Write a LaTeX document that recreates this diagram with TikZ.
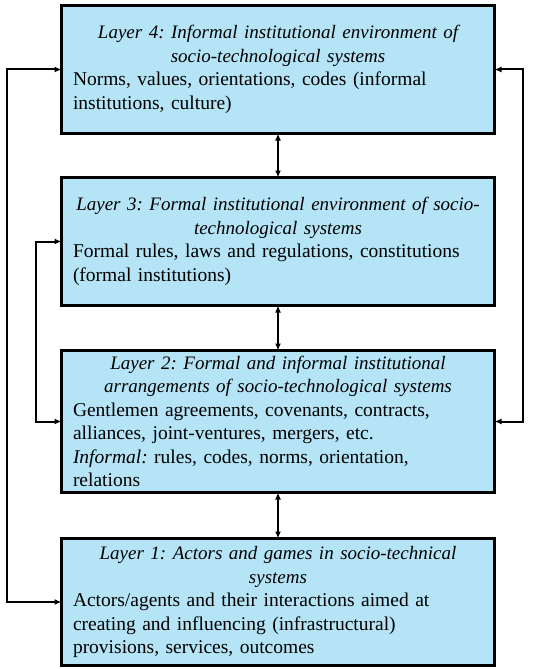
\documentclass[tikz,border=0pt]{standalone}
\usepackage{fontspec}
\setmainfont{Liberation Serif}
\usepackage{tikz}
\usetikzlibrary{positioning,arrows.meta}
\definecolor{layerblue}{RGB}{180,228,246}
\newcommand{\layerhead}[1]{{\centering\itshape\fontsize{19}{23.5}\selectfont #1\par}\raggedright}
\frenchspacing

\begin{document}
\begin{tikzpicture}[auto, node distance=44pt, font=\fontsize{19.5}{23.5}\selectfont]
		\tikzstyle{layer} = [rectangle, draw=black, line width=2.8pt, fill=layerblue, text width=410pt, inner xsep=11.5pt, inner ysep=1pt, outer sep=0pt];
		\tikzstyle{link} = [draw=black, line width=2pt, {Latex[length=7pt,width=6pt]}-{Latex[length=7pt,width=6pt]}];
		\useasboundingbox (0,0) rectangle (541pt,-669pt);
		
		\node[layer, minimum height=128pt](layer4) at (278pt,-69.5pt){\layerhead{Layer 4: Informal institutional environment of\\ socio-technological systems}Norms, values, orientations, codes (informal\\ institutions, culture)};
		\node[layer, minimum height=128pt, below = of layer4](layer3){\layerhead{Layer 3: Formal institutional environment of socio-\\ technological systems}Formal rules, laws and regulations, constitutions\\ (formal institutions)};
		\node[layer, minimum height=142pt, below = 45pt of layer3](layer2){\layerhead{Layer 2: Formal and informal institutional\\ arrangements of socio-technological systems}Gentlemen agreements, covenants, contracts,\\ alliances, joint-ventures, mergers, etc.\\ \textit{Informal:} rules, codes, norms, orientation,\\ relations};
		\node[layer, minimum height=127pt, below = 46pt of layer2](layer1){\layerhead{Layer 1: Actors and games in socio-technical\\ systems}Actors/agents and their interactions aimed at\\ creating and influencing (infrastructural)\\ provisions, services, outcomes};
		
		\path[link] (layer4) edge (layer3)
		(layer3) edge (layer2)
		(layer2) edge (layer1);
		
		\draw[link] (layer4.west) -- ++(-55pt,0) |- (layer1.west);
		\draw[link] (layer3.west) -- ++(-26pt,0) |- (layer2.west);
		\draw[link] (layer4.east) -- ++(28pt,0) |- (layer2.east);
		\end{tikzpicture}
\end{document}
